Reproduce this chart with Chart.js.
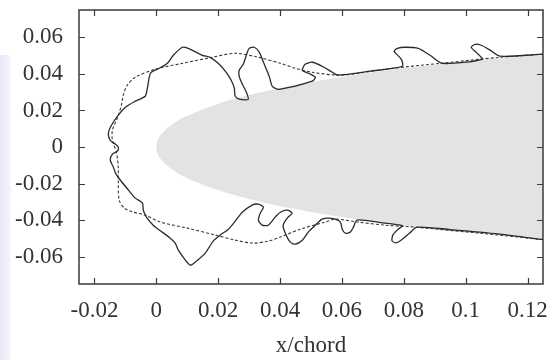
<!DOCTYPE html>
<html><head><meta charset="utf-8">
<script src="https://cdn.jsdelivr.net/npm/chart.js@4.4.0/dist/chart.umd.min.js"></script>
<style>html,body{margin:0;padding:0;background:#fff;}#wrap{width:555px;height:360px;position:relative;}</style>
</head><body><div id="wrap"><canvas id="c"></canvas></div>
<script>
// ---- tick values / labels ----
const xTicks = [-0.02, 0, 0.02, 0.04, 0.06, 0.08, 0.1, 0.12];
const xTickLabels = ['-0.02', '0', '0.02', '0.04', '0.06', '0.08', '0.1', '0.12'];
const yTicks = [-0.06, -0.04, -0.02, 0, 0.02, 0.04, 0.06];
const yTickLabels = ['-0.06', '-0.04', '-0.02', '0', '0.02', '0.04', '0.06'];
const xTitle = 'x/chord';

// ---- airfoil (grey body): stations and half thickness ----
const airfoilStation = [0, 0.0005, 0.002, 0.005, 0.01, 0.02, 0.03, 0.045, 0.06, 0.08, 0.1, 0.13];
const airfoilHalf = [0, 0.00395, 0.00781, 0.01221, 0.01704, 0.0236, 0.0284, 0.03398, 0.03838, 0.04308, 0.04683, 0.05119];

// ---- dashed ice shape ----
const dashedX = [0.1250, 0.1047, 0.0837, 0.0740, 0.0653, 0.0578, 0.0546, 0.0465, 0.0401, 0.0362, 0.0313, 0.0255, 0.0191, 0.0100, 0.0013, -0.0036, -0.0074, -0.0103, -0.0120, -0.0123, -0.0123, -0.0129, -0.0142, -0.0142, -0.0126, -0.0113, -0.0107, -0.0094, -0.0068, -0.0003, 0.0084, 0.0181, 0.0255, 0.0330, 0.0401, 0.0449, 0.0504, 0.0588, 0.0653, 0.0740, 0.0918, 0.1111, 0.1250];
const dashedY = [-0.0507, -0.0472, -0.0439, -0.0428, -0.0411, -0.0395, -0.0411, -0.0450, -0.0493, -0.0515, -0.0526, -0.0510, -0.0482, -0.0444, -0.0411, -0.0373, -0.0357, -0.0335, -0.0291, -0.0182, -0.0110, -0.0028, 0.0037, 0.0092, 0.0158, 0.0229, 0.0283, 0.0338, 0.0382, 0.0426, 0.0458, 0.0491, 0.0513, 0.0491, 0.0458, 0.0431, 0.0409, 0.0393, 0.0404, 0.0426, 0.0458, 0.0491, 0.0508];

// ---- solid (rough) ice shape ----
const solidX = [0.1250, 0.1111, 0.0950, 0.0843, 0.0820, 0.0795, 0.0775, 0.0762, 0.0765, 0.0782, 0.0795, 0.0724, 0.0649, 0.0637, 0.0627, 0.0611, 0.0601, 0.0595, 0.0578, 0.0556, 0.0536, 0.0514, 0.0491, 0.0472, 0.0449, 0.0433, 0.0417, 0.0410, 0.0423, 0.0439, 0.0423, 0.0401, 0.0384, 0.0362, 0.0342, 0.0330, 0.0336, 0.0346, 0.0330, 0.0310, 0.0278, 0.0255, 0.0233, 0.0207, 0.0184, 0.0158, 0.0126, 0.0110, 0.0094, 0.0071, 0.0061, 0.0045, 0.0019, -0.0010, -0.0032, -0.0042, -0.0045, -0.0068, -0.0090, -0.0116, -0.0132, -0.0139, -0.0149, -0.0142, -0.0126, -0.0123, -0.0132, -0.0149, -0.0155, -0.0145, -0.0123, -0.0100, -0.0068, -0.0036, -0.0029, -0.0019, 0.0003, 0.0026, 0.0039, 0.0055, 0.0084, 0.0103, 0.0149, 0.0174, 0.0200, 0.0226, 0.0242, 0.0252, 0.0255, 0.0271, 0.0297, 0.0291, 0.0278, 0.0268, 0.0268, 0.0281, 0.0291, 0.0300, 0.0317, 0.0333, 0.0349, 0.0365, 0.0375, 0.0397, 0.0504, 0.0514, 0.0491, 0.0472, 0.0481, 0.0504, 0.0536, 0.0569, 0.0588, 0.0691, 0.0795, 0.0792, 0.0769, 0.0779, 0.0805, 0.0847, 0.0885, 0.0924, 0.1053, 0.1034, 0.1018, 0.1031, 0.1050, 0.1079, 0.1111, 0.1250];
const solidY = [-0.0507, -0.0477, -0.0452, -0.0439, -0.0470, -0.0505, -0.0525, -0.0514, -0.0481, -0.0450, -0.0431, -0.0414, -0.0400, -0.0439, -0.0466, -0.0472, -0.0450, -0.0411, -0.0395, -0.0389, -0.0395, -0.0428, -0.0466, -0.0510, -0.0532, -0.0521, -0.0472, -0.0428, -0.0389, -0.0362, -0.0346, -0.0357, -0.0384, -0.0428, -0.0428, -0.0400, -0.0362, -0.0329, -0.0313, -0.0318, -0.0357, -0.0406, -0.0450, -0.0482, -0.0515, -0.0581, -0.0630, -0.0647, -0.0619, -0.0565, -0.0526, -0.0499, -0.0466, -0.0428, -0.0384, -0.0346, -0.0307, -0.0280, -0.0236, -0.0182, -0.0143, -0.0110, -0.0072, -0.0039, -0.0023, -0.0001, 0.0015, 0.0037, 0.0075, 0.0119, 0.0174, 0.0218, 0.0251, 0.0278, 0.0322, 0.0404, 0.0426, 0.0447, 0.0464, 0.0502, 0.0546, 0.0540, 0.0502, 0.0491, 0.0458, 0.0409, 0.0365, 0.0322, 0.0278, 0.0261, 0.0261, 0.0300, 0.0344, 0.0387, 0.0420, 0.0453, 0.0502, 0.0540, 0.0546, 0.0518, 0.0453, 0.0387, 0.0332, 0.0316, 0.0360, 0.0382, 0.0404, 0.0420, 0.0453, 0.0464, 0.0442, 0.0409, 0.0393, 0.0415, 0.0442, 0.0480, 0.0524, 0.0540, 0.0546, 0.0540, 0.0502, 0.0458, 0.0480, 0.0518, 0.0546, 0.0562, 0.0557, 0.0530, 0.0497, 0.0508];

// ---- build point tables ----
const zip = (xs, ys) => xs.map((x, i) => ({ x, y: ys[i] }));
const airfoilPts = [];
for (let i = airfoilStation.length - 1; i >= 0; i--) airfoilPts.push({ x: airfoilStation[i], y: airfoilHalf[i] });
for (let i = 1; i < airfoilStation.length; i++) airfoilPts.push({ x: airfoilStation[i], y: -airfoilHalf[i] });

const TEXT = '#333333';
const FONT = { family: "'Liberation Serif', 'DejaVu Serif', serif", size: 23 };

const framePlugin = {
  id: 'frame',
  beforeDraw(chart) {
    const { ctx, width, height } = chart;
    ctx.save();
    ctx.fillStyle = '#ffffff';
    ctx.fillRect(0, 0, width, height);
    const g = ctx.createLinearGradient(0, 0, 12, 0);
    g.addColorStop(0, '#e9e9f6');
    g.addColorStop(0.8, '#f3f3fa');
    g.addColorStop(1, 'rgba(255,255,255,0)');
    ctx.fillStyle = g;
    ctx.fillRect(0, 55, 12, height - 55);
    ctx.restore();
  },
  afterDatasetsDraw(chart) {
    const { ctx, chartArea: { left, right, top, bottom }, scales: { x, y } } = chart;
    ctx.save();
    ctx.strokeStyle = '#3a3a3a';
    ctx.lineWidth = 1.5;
    ctx.strokeRect(left, top, right - left, bottom - top);
    ctx.lineWidth = 1.2;
    ctx.beginPath();
    const L = 6;
    x.ticks.forEach(t => {
      const px = Math.round(x.getPixelForValue(t.value)) + 0.5;
      ctx.moveTo(px, bottom); ctx.lineTo(px, bottom - L);
      ctx.moveTo(px, top); ctx.lineTo(px, top + L);
    });
    y.ticks.forEach(t => {
      const py = Math.round(y.getPixelForValue(t.value)) + 0.5;
      ctx.moveTo(left, py); ctx.lineTo(left + L, py);
      ctx.moveTo(right, py); ctx.lineTo(right - L, py);
    });
    ctx.stroke();
    ctx.restore();
  }
};

new Chart(document.getElementById('c'), {
  type: 'scatter',
  data: {
    datasets: [
      { label: 'rough', data: zip(solidX, solidY), showLine: true, borderColor: '#2b2b2b', borderWidth: 1.3, pointRadius: 0, tension: 0.25, fill: false },
      { label: 'smooth', data: zip(dashedX, dashedY), showLine: true, borderColor: '#3a3a3a', borderWidth: 1.1, borderDash: [3, 2], pointRadius: 0, tension: 0.3, fill: false },
      { label: 'airfoil', data: airfoilPts, showLine: true, borderWidth: 0, borderColor: 'rgba(0,0,0,0)', backgroundColor: '#e3e3e3', pointRadius: 0, tension: 0.4, fill: 'shape' }
    ]
  },
  options: {
    responsive: true,
    maintainAspectRatio: false,
    animation: false,
    layout: { padding: { left: 0, right: 12, top: 10, bottom: 0 } },
    plugins: { legend: { display: false }, tooltip: { enabled: false } },
    scales: {
      x: {
        type: 'linear', min: -0.025, max: 0.125,
        grid: { display: false, drawTicks: false },
        border: { display: false },
        afterBuildTicks: s => { s.ticks = xTicks.map(v => ({ value: v })); },
        afterFit: s => { s.height = 76; s.paddingLeft = 0; s.paddingRight = 0; },
        ticks: { color: TEXT, font: FONT, padding: 13, autoSkip: false, maxRotation: 0,
                 callback: (v, i) => xTickLabels[i] },
        title: { display: true, text: xTitle, color: TEXT, font: FONT, padding: { top: 0, bottom: 0 } }
      },
      y: {
        type: 'linear', min: -0.075, max: 0.075,
        grid: { display: false, drawTicks: false },
        border: { display: false },
        afterBuildTicks: s => { s.ticks = yTicks.map(v => ({ value: v })); },
        afterFit: s => { s.width = 79; s.paddingTop = 0; s.paddingBottom = 0; },
        ticks: { color: TEXT, font: FONT, padding: 16, autoSkip: false,
                 callback: (v, i) => yTickLabels[i] }
      }
    }
  },
  plugins: [framePlugin]
});
</script></body></html>
